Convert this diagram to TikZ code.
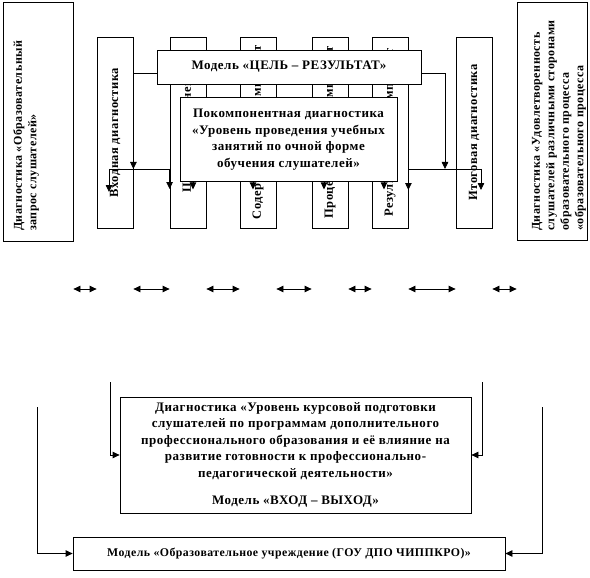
\documentclass[tikz,border=0pt]{standalone}
\usepackage{fontspec}
\setmainfont{Liberation Serif}[LetterSpace=4]
\usetikzlibrary{arrows.meta,calc}
\begin{document}
\begin{tikzpicture}[x=1pt,y=1pt,
 box/.style={draw, line width=0.8pt, fill=white, inner sep=0pt},
 txt/.style={font=\fontsize{13}{16.5}\selectfont\bfseries, align=center, inner sep=0pt},
 vtxt/.style={font=\fontsize{12.5}{14}\selectfont\bfseries, rotate=90, inner sep=0pt},
 ln/.style={line width=0.8pt},
 arr/.style={line width=0.8pt, -{Triangle[length=7pt,width=6.5pt]}},
 darr/.style={line width=0.8pt, {Triangle[length=7pt,width=6.5pt]}-{Triangle[length=7pt,width=6.5pt]}},
]
\useasboundingbox (0,0) rectangle (590,-578);
% side boxes
\node[box, minimum width=70pt, minimum height=239pt] (lbox) at (38,-121.5) {};
\node[vtxt, anchor=west, align=left, font=\fontsize{12}{14.5}\selectfont\bfseries] (lt) at (26,-231) {Диагностика «Образовательный\\запрос слушателей»};
\node[box, minimum width=70pt, minimum height=238pt] (rbox) at (552,-121) {};
\node[vtxt, anchor=west, align=left, font=\fontsize{12}{14.5}\selectfont\bfseries] (rt) at (559,-231) {Диагностика «Удовлетворенность\\слушателей различными сторонами\\образовательного процесса\\«образовательного процесса};
% columns
\foreach \n/\x/\t in {cin/115/Входная диагностика, ccel/188/Целевой компонент, csod/258/Содержательный компонент, cproc/330/Процессуальный компонент, crez/390/Результативный компонент, cit/474/Итоговая диагностика}{
  \node[box, minimum width=36pt, minimum height=191pt] (\n) at (\x,-132.5) {};
  \node[vtxt] (\n t) at (\n) {\t};
}
% central boxes
\node[box, minimum width=264pt, minimum height=34pt, txt] (cel) at (289,-67) {\raisebox{4pt}{Модель «ЦЕЛЬ – РЕЗУЛЬТАТ»}};
\node[box, minimum width=217pt, minimum height=84pt, txt] (pok) at (288.5,-139) {\raisebox{4pt}{\begin{tabular}{@{}c@{}}Покомпонентная диагностика\\«Уровень проведения учебных\\занятий по очной форме\\обучения слушателей»\end{tabular}}};
% connectors top
\coordinate (busy) at (0,-169);
\coordinate (rj) at (445,-169);
\coordinate (bl) at (109,-169);
\coordinate (br) at (481,-169);
\draw[arr] ($(cel.west)+(0,-6)$) -| (cin.east |- busy);
\draw[arr] ($(cel.east)+(0,-6)$) -| (rj);
\draw[ln] (ccel.west |- busy) -- (bl);
\draw[arr] (bl) -- ++(0,-23);
\draw[arr] (ccel.west |- busy) -- ++(0,-20);
\draw[ln] (crez.east |- busy) -- (br);
\draw[arr] (br) -- ++(0,-21);
\draw[arr] (crez.east |- busy) -- ++(0,-21);
\foreach \x in {193,253,324,384}{
  \draw[arr] (pok.south -| \x,0) -- ++(0,-8);
}
% row of double arrows
\coordinate (row) at (0,-289);
\draw[darr] (lbox.east |- row) -- (cin.west |- row);
\draw[darr] (cin.east |- row) -- (ccel.west |- row);
\draw[darr] (ccel.east |- row) -- (csod.west |- row);
\draw[darr] (csod.east |- row) -- (cproc.west |- row);
\draw[darr] (cproc.east |- row) -- (crez.west |- row);
\draw[darr] (crez.east |- row) -- (cit.west |- row);
\draw[darr] (cit.east |- row) -- (rbox.west |- row);
% bottom boxes
\node[box, minimum width=351pt, minimum height=116pt, txt] (vx) at (295.5,-455) {Диагностика «Уровень курсовой подготовки\\слушателей по программам дополнительного\\профессионального образования и её влияние на\\развитие готовности к профессионально-\\педагогической деятельности»\\[11pt]Модель «ВХОД – ВЫХОД»};
\node[box, minimum width=432pt, minimum height=33pt, txt, font=\fontsize{11.8}{14}\selectfont\bfseries] (ou) at (289,-553.5) {Модель «Образовательное учреждение (ГОУ ДПО ЧИППКРО)»};
\coordinate (il) at (110,-382);
\coordinate (ir) at (482,-382);
\coordinate (ol) at (37,-407);
\coordinate (or) at (542,-407);
\draw[arr] (il) |- (vx.west);
\draw[arr] (ir) |- (vx.east);
\draw[arr] (ol) |- (ou.west);
\draw[arr] (or) |- (ou.east);
\end{tikzpicture}
\end{document}
